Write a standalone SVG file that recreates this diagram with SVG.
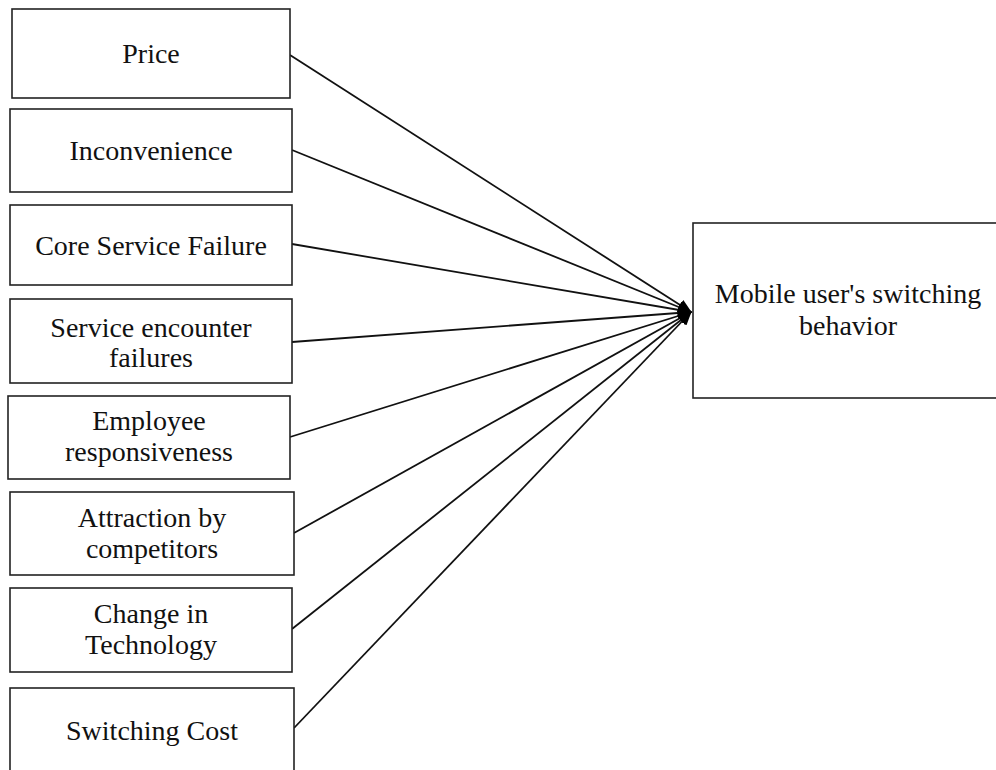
<svg xmlns="http://www.w3.org/2000/svg" width="996" height="770" viewBox="0 0 996 770">
  <style>
    .box { fill: #ffffff; stroke: #222222; stroke-width: 1.6; }
    .lbl { font-family: "Liberation Serif", "Times New Roman", serif; font-size: 28px; fill: #111111; text-anchor: middle; }
    .link { stroke: #111111; stroke-width: 1.8; fill: none; marker-end: url(#head); }
  </style>
  <defs>
    <marker id="head" viewBox="0 0 14 12" refX="13" refY="6" markerWidth="14" markerHeight="12" markerUnits="userSpaceOnUse" orient="auto">
      <path d="M0,0 L14,6 L0,12 Z" fill="#000000"/>
    </marker>
  </defs>
  <rect width="996" height="770" fill="#ffffff"/>

  <g id="connectors">
    <line class="link" x1="290" y1="55" x2="691" y2="312"/>
    <line class="link" x1="292" y1="150" x2="691" y2="312"/>
    <line class="link" x1="292" y1="244" x2="691" y2="312"/>
    <line class="link" x1="292" y1="342" x2="691" y2="312"/>
    <line class="link" x1="290" y1="437" x2="691" y2="312"/>
    <line class="link" x1="294" y1="533" x2="691" y2="312"/>
    <line class="link" x1="292" y1="629" x2="691" y2="312"/>
    <line class="link" x1="294" y1="728" x2="691" y2="312"/>
  </g>

  <g id="price">
    <rect class="box" x="12" y="9" width="278" height="89"/>
    <text class="lbl" x="151" y="63">Price</text>
  </g>
  <g id="inconvenience">
    <rect class="box" x="10" y="109" width="282" height="83"/>
    <text class="lbl" x="151" y="160">Inconvenience</text>
  </g>
  <g id="core-service-failure">
    <rect class="box" x="10" y="205" width="282" height="80"/>
    <text class="lbl" x="151" y="255">Core Service Failure</text>
  </g>
  <g id="service-encounter-failures">
    <rect class="box" x="10" y="299" width="282" height="84"/>
    <text class="lbl" x="151" y="337">Service encounter</text>
    <text class="lbl" x="151" y="367">failures</text>
  </g>
  <g id="employee-responsiveness">
    <rect class="box" x="8" y="396" width="282" height="83"/>
    <text class="lbl" x="149" y="430">Employee</text>
    <text class="lbl" x="149" y="461">responsiveness</text>
  </g>
  <g id="attraction-by-competitors">
    <rect class="box" x="10" y="492" width="284" height="83"/>
    <text class="lbl" x="152" y="527">Attraction by</text>
    <text class="lbl" x="152" y="558">competitors</text>
  </g>
  <g id="change-in-technology">
    <rect class="box" x="10" y="588" width="282" height="84"/>
    <text class="lbl" x="151" y="623">Change in</text>
    <text class="lbl" x="151" y="654">Technology</text>
  </g>
  <g id="switching-cost">
    <rect class="box" x="10" y="688" width="284" height="90"/>
    <text class="lbl" x="152" y="740">Switching Cost</text>
  </g>
  <g id="switching-behavior">
    <rect class="box" x="693" y="223" width="310" height="175"/>
    <text class="lbl" x="848" y="303">Mobile user's switching</text>
    <text class="lbl" x="848" y="335">behavior</text>
  </g>
</svg>
